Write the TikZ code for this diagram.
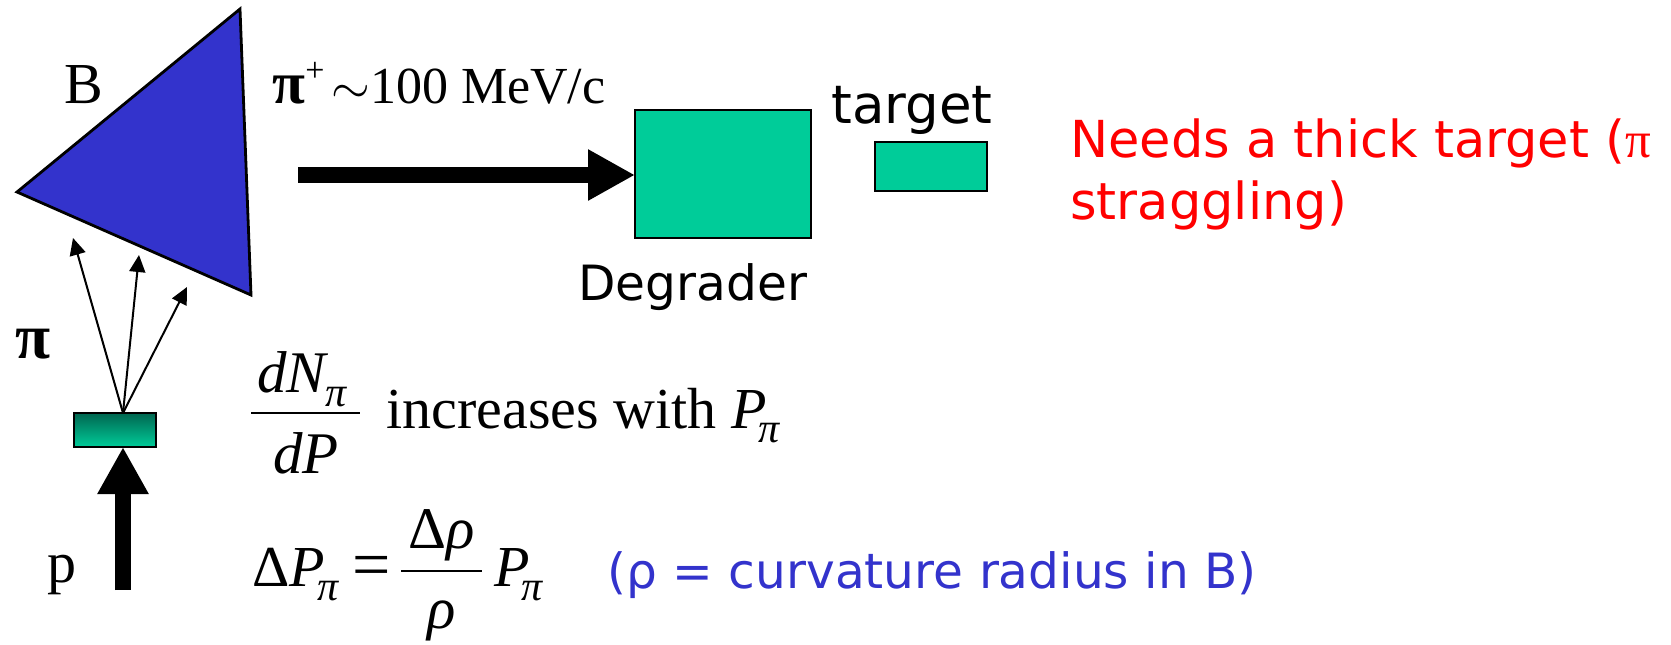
\documentclass[tikz,border=0pt]{standalone}
\usepackage{fontspec}
\setmainfont{Liberation Serif}
\newfontfamily\handfont{DejaVu Sans}
\usetikzlibrary{arrows.meta,positioning,calc}
\definecolor{prismC}{HTML}{3333CC}
\definecolor{boxC}{HTML}{00CC99}
\definecolor{boxDark}{HTML}{006650}
\definecolor{noteC}{HTML}{FF0000}
\newcommand{\piSub}{\raisebox{-7pt}{\fontsize{21}{23}\selectfont\itshape π}}
\tikzset{
  serifLabel/.style={anchor=base west,inner sep=0pt,font=\fontsize{29}{33}\selectfont},
  mathLabel/.style={anchor=base,inner sep=0pt,font=\fontsize{29.5}{33}\selectfont\itshape},
  handLabel/.style={anchor=base west,inner sep=0pt,font=\fontsize{24.3}{28}\selectfont\handfont},
  greenBox/.style={draw=black,line width=1.2pt,fill=boxC,inner sep=0pt,outer sep=0pt,anchor=north west},
  fanArrow/.style={-{Triangle[length=8.5pt,width=8pt]},line width=1pt},
  thickArrow/.style={-{Triangle[length=23.5pt,width=24pt]},line width=8pt},
  fracRule/.style={line width=0.85pt},
}
\begin{document}
\begin{tikzpicture}[x=0.5pt,y=-0.5pt]
\useasboundingbox (0,0) rectangle (1671,644);

% Magnet and the boxes along the beam.
\draw[draw=black,line width=1.4pt,line join=miter,fill=prismC] (240,9) -- (17,192) -- (251,295) -- cycle;
\node[greenBox,minimum width=88pt,minimum height=64pt] (degrader) at (635,110) {};
\node[greenBox,minimum width=56pt,minimum height=24.5pt] (target) at (875,142) {};
\node[greenBox,top color=boxDark,bottom color=boxC,
      minimum width=41pt,minimum height=17pt] (prod) at (74,413) {};

% Beams.
\coordinate (beamStart) at (298,175);
\draw[thickArrow] (beamStart) -- (degrader.west |- beamStart);
\coordinate (pStart) at (123,590);
\coordinate (prodIn) at (prod.south -| pStart);
\draw[thickArrow] (pStart) -- (prodIn);
\coordinate (fanStart) at (prod.north -| pStart);
\coordinate (fanA) at (73,238);
\coordinate (fanB) at (139,255);
\coordinate (fanC) at (187,287);
\draw[fanArrow] (fanStart) -- (fanA);
\draw[fanArrow] (fanStart) -- (fanB);
\draw[fanArrow] (fanStart) -- (fanC);

% Labels.
\node[serifLabel] (magnetLabel) at (64,103) {B};
\node[serifLabel] (piLabel) at (15,358) {\fontsize{32}{34}\selectfont\bfseries π};
\node[serifLabel] (protonLabel) at (47,582) {p};
\node[serifLabel,font=\fontsize{26}{30}\selectfont] (beamLabel) at (272,103)
  {{\fontsize{30}{32}\selectfont\bfseries π}\raisebox{11pt}{\fontsize{17}{19}\selectfont +}\hspace{3.5pt}$\sim$100 MeV/c};
\node[handLabel] (degraderLabel) at (578,300) {Degrader};
\node[handLabel,font=\fontsize{26.5}{30}\selectfont\handfont] (targetLabel) at (831,123) {target};
\node[handLabel,text=noteC,font=\fontsize{25.5}{30}\selectfont\handfont] (noteA) at (1070,157)
  {Needs a thick target ({\rmfamily π}};
\node[handLabel,text=noteC,font=\fontsize{25.5}{30}\selectfont\handfont] (noteB) at (1070,219) {straggling)};

% First relation.
\node[mathLabel] (dN) at (302,392) {dN\piSub};
\node[mathLabel] (dP) at (306,473) {dP};
\coordinate (ruleAL) at (251,413);
\coordinate (ruleAR) at (360,413);
\draw[fracRule] (ruleAL) -- (ruleAR);
\node[serifLabel] (increases) at (386,428) {increases with \textit{P}\kern-4pt\piSub};

% Second relation.
\node[serifLabel] (dPleft) at (252,586) {Δ\textit{P}\kern-4pt\piSub};
\node[serifLabel,font=\fontsize{34}{36}\selectfont] (equals) at (352,587) {=};
\node[mathLabel] (dRho) at (442,548) {\upshape Δ\itshape ρ};
\node[mathLabel] (rho) at (442,628) {ρ};
\coordinate (ruleBL) at (401,571);
\coordinate (ruleBR) at (482,571);
\draw[fracRule] (ruleBL) -- (ruleBR);
\node[serifLabel] (momentum) at (494,586) {\textit{P}\kern-4pt\piSub};
\node[handLabel,text=prismC] (rhoNote) at (607,588) {(ρ = curvature radius in B)};
\end{tikzpicture}
\end{document}
